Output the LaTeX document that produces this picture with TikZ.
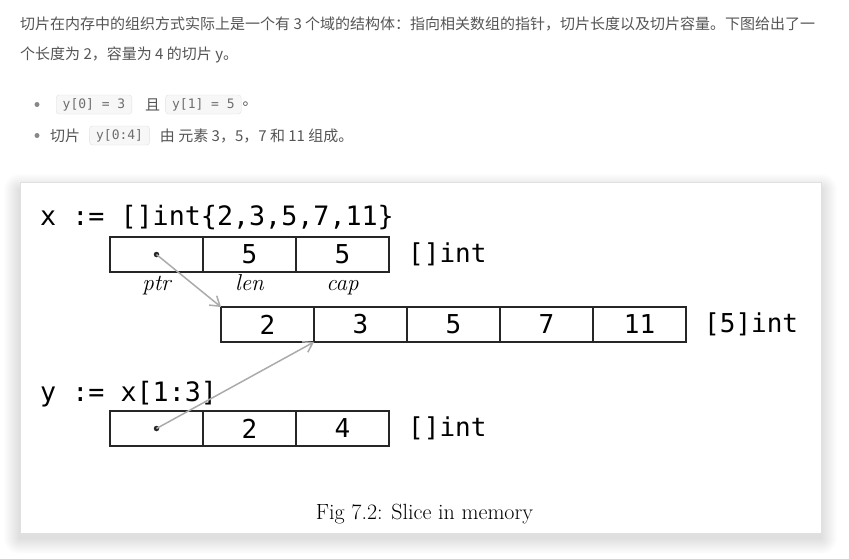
\documentclass[tikz,border=0pt]{standalone}
\usepackage{fontspec}
\setmonofont{DejaVu Sans Mono}
\newfontfamily\cjkfont{Noto Sans CJK SC}
\usepackage{tikz}
\usetikzlibrary{arrows.meta,positioning}
\definecolor{bodytext}{HTML}{555555}
\definecolor{codebg}{HTML}{F7F7F7}
\definecolor{codeframe}{HTML}{E2E2E2}
\definecolor{ptrgray}{HTML}{ABABAB}
\definecolor{figframe}{HTML}{E0E0E0}
\tikzset{
  sl/para/.style={anchor=west, inner sep=0pt, text=bodytext, font=\cjkfont\fontsize{15}{15}\selectfont},
  sl/code/.style={draw=codeframe, fill=codebg, rounded corners=3pt, anchor=west, text=bodytext!85,
    font=\ttfamily\fontsize{13}{13}\selectfont, minimum height=19pt, inner xsep=6.5pt, inner ysep=0pt},
  sl/bullet/.style={circle, fill=bodytext!70, inner sep=0pt, minimum size=5pt},
  sl/cell/.style={draw=black!85, line width=1.6pt, minimum width=93pt, minimum height=35pt,
    inner sep=0pt, outer sep=0pt, font=\ttfamily\fontsize{26}{26}\selectfont},
  sl/src/.style={anchor=base west, inner sep=0pt, font=\ttfamily\fontsize{26.7}{26.7}\selectfont},
  sl/type/.style={anchor=west, inner sep=0pt, font=\ttfamily\fontsize{26}{26}\selectfont},
  sl/field/.style={anchor=base, inner sep=0pt, font=\itshape\fontsize{23}{23}\selectfont},
  sl/dot/.style={circle, fill=black!85, inner sep=0pt, minimum size=5.5pt},
  sl/ptr/.style={draw=ptrgray, line width=1.5pt, -{Straight Barb[length=9pt, width=12pt]}}
}

\begin{document}
\begin{tikzpicture}[x=1pt, y=-1pt]
  \useasboundingbox (0,0) rectangle (849,558);
  \fill[white] (0,0) rectangle (849,558);

  % Text above the figure
  \node[sl/para] (l1) at (20,24) {切片在内存中的组织方式实际上是一个有 3 个域的结构体：指向相关数组的指针，切片长度以及切片容量。下图给出了一};
  \node[sl/para] (l2) at (20,55) {个长度为 2，容量为 4 的切片 y。};

  \node[sl/bullet] (b1) at (37,104.5) {};
  \node[sl/code] (c1) at (56,104.5) {y[0] = 3};
  \node[sl/para, right=13pt of c1] (qie) {且};
  \node[sl/code, right=5pt of qie] (c2) {y[1] = 5};
  \node[sl/para, right=1pt of c2] (stop1) {。};

  \node[sl/bullet] (b2) at (37,135.5) {};
  \node[sl/para] (qp) at (50,135.5) {切片};
  \node[sl/code, right=9pt of qp] (c3) {y[0:4]};
  \node[sl/para, right=10pt of c3] (rest) {由 元素 3，5，7 和 11 组成。};

  % Figure frame with soft shadow
  \foreach \i in {1,...,16}
    \fill[black, opacity=0.007, rounded corners=\i pt] ({20-\i},{190-\i}) rectangle ({821+\i},{538+\i});
  \draw[figframe, fill=white] (20,182) rectangle (821,533);

  % x := []int{...}
  \node[sl/src] (xsrc) at (40,225) {x := []int\{2,3,5,7,11\}};
  \node[sl/cell, anchor=north west] (xptr) at (110,237) {};
  \node[sl/cell, right=0pt of xptr] (xlen) {5};
  \node[sl/cell, right=0pt of xlen] (xcap) {5};
  \node[sl/type, right=19pt of xcap] (xtype) {[]int};
  \node[sl/field] (ptrlbl) at ([yshift=-18pt]xptr.south) {ptr};
  \node[sl/field] (lenlbl) at ([yshift=-18pt]xlen.south) {len};
  \node[sl/field] (caplbl) at ([yshift=-18pt]xcap.south) {cap};

  % Backing array
  \node[sl/cell, anchor=north west] (a0) at (221,307) {2};
  \node[sl/cell, right=0pt of a0] (a1) {3};
  \node[sl/cell, right=0pt of a1] (a2) {5};
  \node[sl/cell, right=0pt of a2] (a3) {7};
  \node[sl/cell, right=0pt of a3] (a4) {11};
  \node[sl/type, right=18pt of a4] (atype) {[5]int};

  % y := x[1:3]
  \node[sl/src] (ysrc) at (40,401) {y := x[1:3]};
  \node[sl/cell, anchor=north west] (yptr) at (110,411) {};
  \node[sl/cell, right=0pt of yptr] (ylen) {2};
  \node[sl/cell, right=0pt of ylen] (ycap) {4};
  \node[sl/type, right=19pt of ycap] (ytype) {[]int};

  % pointers
  \node[sl/dot] (xdot) at (xptr.center) {};
  \node[sl/dot] (ydot) at (yptr.center) {};
  \draw[sl/ptr] (xdot.center) -- (a0.north west);
  \draw[sl/ptr] (ydot.center) -- (a1.south west);

  \node[anchor=base, inner sep=0pt, font=\fontsize{22}{22}\selectfont] (figcap) at (424.5,519) {Fig 7.2: Slice in memory};
\end{tikzpicture}
\end{document}
